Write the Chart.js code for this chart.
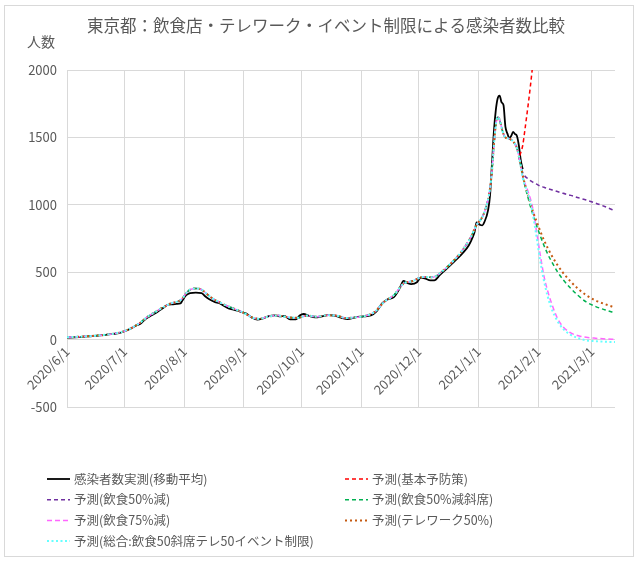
<!DOCTYPE html>
<html>
<head>
<meta charset="utf-8">
<script src="https://cdn.jsdelivr.net/npm/chart.js@4.4.0/dist/chart.umd.min.js"></script>
<style>
  html, body { margin: 0; padding: 0; background: #fff; }
  #wrap { position: absolute; left: 0; top: 0; width: 639px; height: 562px; }
  #frame { position: absolute; left: 4px; top: 5px; width: 630px; height: 552px; border: 1px solid #d9d9d9; box-sizing: border-box; pointer-events: none; }
</style>
</head>
<body>
<div id="wrap">
  <canvas id="myChart" width="639" height="562"></canvas>
  <div id="frame"></div>
</div>
<script>
const chartTitle = '東京都：飲食店・テレワーク・イベント制限による感染者数比較';

// x軸は 2020/6/1 からの日数
const monthDays = [0, 30, 61, 92, 122, 153, 183, 214, 245, 273];
const monthLabels = ['2020/6/1', '2020/7/1', '2020/8/1', '2020/9/1', '2020/10/1',
  '2020/11/1', '2020/12/1', '2021/1/1', '2021/2/1', '2021/3/1'];

// 感染者数実測(移動平均)
const actualDays = [0, 4, 8, 12, 16, 20, 24, 27, 30, 33, 36, 38, 41, 44, 47, 50, 52, 55, 57, 59,
  60, 62, 64, 67, 70, 72, 74, 77, 79, 81, 84, 87, 90, 93, 96, 99, 102, 105, 108, 111,
  113, 116, 119, 121, 123, 126, 129, 132, 136, 140, 143, 146, 150, 154, 158, 161, 164, 167, 170, 173,
  175, 177, 179, 182, 184, 186, 189, 191, 194, 197, 200, 203, 206, 209, 211, 212, 213, 215, 216, 217,
  219, 220, 221, 222, 223, 224, 225, 226, 227, 228, 229, 230, 231, 232, 233, 234, 235, 236, 237];
const actualValues = [15, 17, 20, 25, 30, 35, 42, 48, 62, 80, 105, 115, 155, 180, 205, 235, 255, 262, 265, 268,
  290, 330, 345, 348, 345, 320, 300, 278, 272, 255, 232, 220, 208, 195, 165, 148, 158, 175, 180, 172,
  176, 150, 150, 178, 190, 175, 165, 170, 182, 175, 160, 152, 165, 172, 180, 210, 270, 300, 315, 380,
  435, 420, 412, 425, 460, 455, 440, 440, 480, 520, 560, 600, 645, 700, 760, 800, 870, 850, 848, 870,
  960, 1070, 1300, 1540, 1700, 1790, 1810, 1760, 1740, 1580, 1530, 1495, 1510, 1540, 1525, 1510, 1440, 1330, 1265];

// モデルの当てはめ(予測共通部分)
const fitDays = [0, 10, 20, 28, 33, 38, 42, 46, 50, 54, 58, 60, 62, 64, 67, 70, 73, 76, 79, 82,
  85, 88, 91, 94, 97, 100, 105, 110, 115, 120, 125, 130, 135, 140, 145, 150, 155, 160, 165, 170,
  175, 180, 185, 190, 195, 200, 205, 210, 213, 216, 218, 220, 221, 222, 223, 224, 225, 226, 227, 228,
  230, 232, 234, 236];
const fitValues = [18, 24, 36, 55, 82, 125, 170, 205, 240, 268, 285, 305, 345, 370, 380, 370, 335, 302, 280, 258,
  240, 222, 205, 182, 160, 155, 172, 178, 165, 162, 178, 170, 180, 178, 160, 165, 175, 205, 280, 330,
  415, 435, 465, 462, 505, 570, 650, 760, 850, 910, 985, 1120, 1250, 1440, 1590, 1650, 1630, 1575, 1525, 1500,
  1490, 1470, 1420, 1290];

// 予測部分
const predDays = [237, 238, 240, 242, 244, 246, 248, 250, 252, 255, 258, 262, 266, 270, 275, 280, 285];
const predFood50 = [1240, 1215, 1190, 1170, 1155, 1140, 1130, 1120, 1112, 1098, 1085, 1070, 1052, 1035, 1012, 985, 955];
const predFood50Seat = [1215, 1150, 1040, 940, 855, 775, 700, 635, 580, 505, 445, 380, 325, 280, 245, 220, 198];
const predFood75 = [1210, 1165, 1090, 990, 820, 640, 475, 360, 270, 160, 95, 50, 28, 17, 10, 5, 2];
const predTelework = [1220, 1160, 1060, 965, 885, 810, 740, 680, 625, 555, 495, 430, 375, 330, 290, 262, 238];
const predTotal = [1200, 1150, 1070, 950, 780, 595, 440, 320, 230, 140, 80, 35, 10, -5, -12, -16, -18];

const basicDays = [235.5, 237, 238, 239, 240, 241, 242, 243, 244];
const predBasic = [1365, 1440, 1540, 1650, 1760, 1880, 2010, 2140, 2280];

function pts(days, vals) {
  return days.map((d, i) => ({ x: d, y: vals[i] }));
}
const fitPts = pts(fitDays, fitValues);

Chart.defaults.font.family = "'Noto Sans CJK JP', 'Noto Sans', sans-serif";
Chart.defaults.color = '#595959';

// タイトル、2列の凡例、「人数」
const textPlugin = {
  id: 'textPlugin',
  afterDraw(chart) {
    const ctx = chart.ctx;
    const area = chart.chartArea;
    ctx.save();
    ctx.fillStyle = '#595959';
    ctx.textBaseline = 'middle';

    ctx.font = "16.5px 'Noto Sans CJK JP', sans-serif";
    ctx.textAlign = 'center';
    ctx.fillText(chartTitle, 326, 26);

    ctx.font = "14px 'Noto Sans CJK JP', sans-serif";
    ctx.fillText('人数', area.left - 26, area.top - 28);

    ctx.font = "12.5px 'Noto Sans CJK JP', sans-serif";
    ctx.textAlign = 'left';
    chart.data.datasets.forEach((ds, i) => {
      const col = i % 2;
      const row = Math.floor(i / 2);
      const x = area.left - 20 + col * 298;
      const y = area.bottom + 72 + row * 20.7;
      ctx.strokeStyle = ds.borderColor;
      ctx.lineWidth = ds.borderWidth;
      ctx.lineCap = ds.borderCapStyle || 'butt';
      ctx.setLineDash(ds.borderDash || []);
      ctx.beginPath();
      ctx.moveTo(x, y);
      ctx.lineTo(x + 23, y);
      ctx.stroke();
      ctx.setLineDash([]);
      ctx.fillText(ds.label, x + 27, y);
    });
    ctx.restore();
  }
};

const ctx = document.getElementById('myChart').getContext('2d');

const chart = new Chart(ctx, {
  type: 'line',
  data: {
    datasets: [
      { label: '感染者数実測(移動平均)', data: pts(actualDays, actualValues),
        borderColor: '#000000', borderWidth: 1.8, order: 7 },
      { label: '予測(基本予防策)', data: pts(basicDays, predBasic),
        borderColor: '#ff0000', borderWidth: 1.5, borderDash: [4, 3], order: 6 },
      { label: '予測(飲食50%減)', data: fitPts.concat(pts(predDays, predFood50)),
        borderColor: '#7030a0', borderWidth: 1.5, borderDash: [4, 3], order: 5 },
      { label: '予測(飲食50%減斜席)', data: fitPts.concat(pts(predDays, predFood50Seat)),
        borderColor: '#00b050', borderWidth: 1.5, borderDash: [4, 3], order: 4 },
      { label: '予測(飲食75%減)', data: fitPts.concat(pts(predDays, predFood75)),
        borderColor: '#ff66ff', borderWidth: 1.5, borderDash: [5, 3], order: 3 },
      { label: '予測(テレワーク50%)', data: fitPts.concat(pts(predDays, predTelework)),
        borderColor: '#c55a11', borderWidth: 2, borderDash: [2, 3], order: 2 },
      { label: '予測(総合:飲食50斜席テレ50イベント制限)', data: fitPts.concat(pts(predDays, predTotal)),
        borderColor: '#66ffff', borderWidth: 2, borderDash: [2, 2.5], order: 1 }
    ]
  },
  options: {
    responsive: false,
    animation: false,
    layout: { padding: { top: 70, left: 0, right: 24, bottom: 155 } },
    elements: {
      point: { radius: 0 },
      line: { cubicInterpolationMode: 'monotone', fill: false }
    },
    plugins: {
      legend: { display: false },
      tooltip: { enabled: false },
      title: { display: false }
    },
    scales: {
      x: {
        type: 'linear',
        position: { y: 0 },
        min: 0,
        max: 285,
        afterBuildTicks: (scale) => { scale.ticks = monthDays.map(v => ({ value: v })); },
        ticks: {
          autoSkip: false,
          minRotation: 45,
          maxRotation: 45,
          padding: 4,
          color: '#595959',
          font: { size: 13 },
          callback: (v) => monthLabels[monthDays.indexOf(v)]
        },
        grid: { color: '#d9d9d9', drawTicks: false },
        border: { display: false }
      },
      y: {
        min: -500,
        max: 2000,
        afterFit: (scale) => { scale.width = 67; },
        ticks: { stepSize: 500, padding: 10, color: '#595959', font: { size: 13 },
          callback: (v) => String(v) },
        grid: { color: '#d9d9d9', drawTicks: false },
        border: { display: false }
      }
    }
  },
  plugins: [textPlugin]
});
</script>
</body>
</html>
